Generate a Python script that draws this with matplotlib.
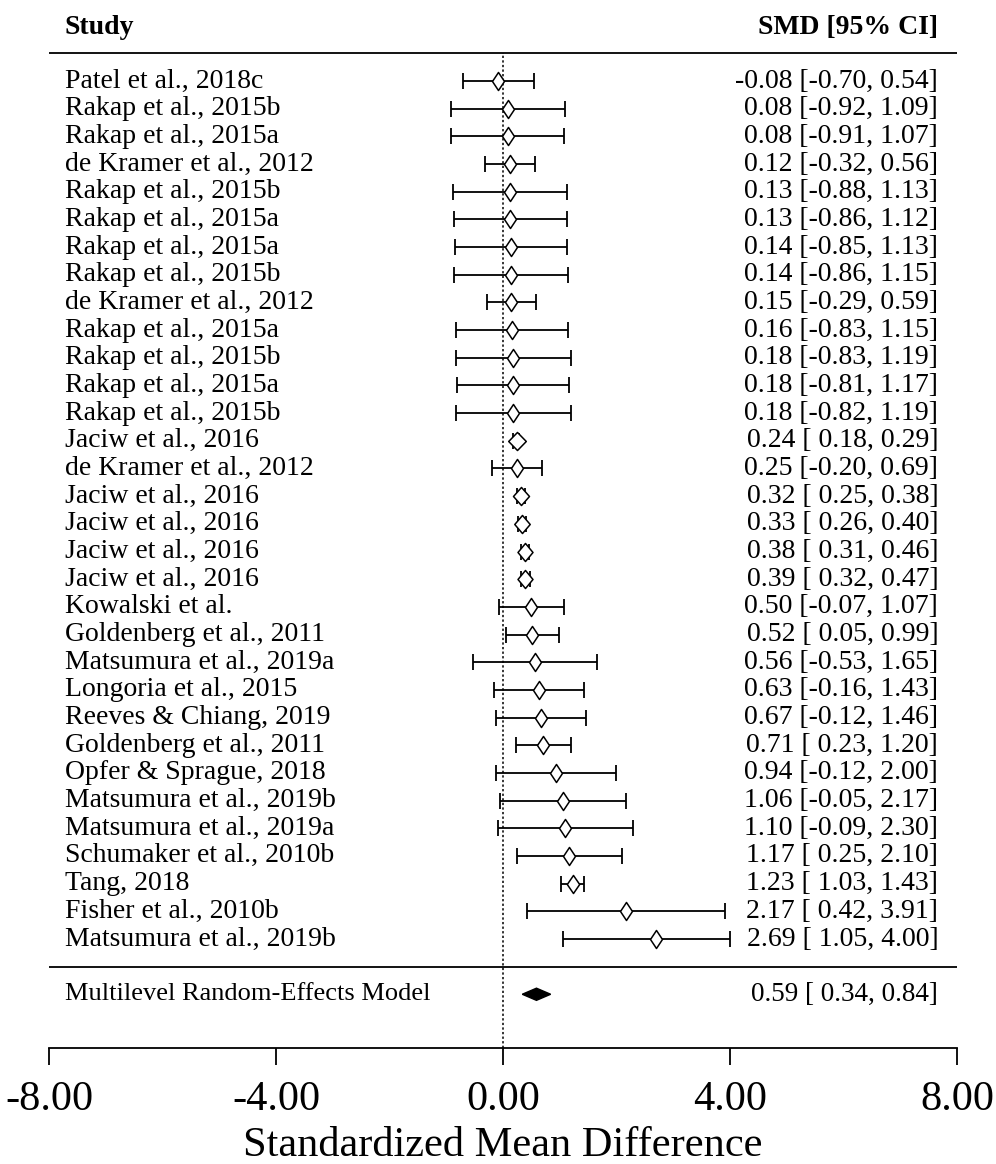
import numpy as np
import matplotlib
matplotlib.use('Agg')
import matplotlib.pyplot as plt
from matplotlib.path import Path
from matplotlib.patches import Polygon

plt.rcParams['font.family'] = ['Liberation Serif', 'DejaVu Serif']

studies = ['Patel et al., 2018c', 'Rakap et al., 2015b', 'Rakap et al., 2015a',
           'de Kramer et al., 2012', 'Rakap et al., 2015b', 'Rakap et al., 2015a',
           'Rakap et al., 2015a', 'Rakap et al., 2015b', 'de Kramer et al., 2012',
           'Rakap et al., 2015a', 'Rakap et al., 2015b', 'Rakap et al., 2015a',
           'Rakap et al., 2015b', 'Jaciw et al., 2016', 'de Kramer et al., 2012',
           'Jaciw et al., 2016', 'Jaciw et al., 2016', 'Jaciw et al., 2016',
           'Jaciw et al., 2016', 'Kowalski et al.', 'Goldenberg et al., 2011',
           'Matsumura et al., 2019a', 'Longoria et al., 2015', 'Reeves & Chiang, 2019',
           'Goldenberg et al., 2011', 'Opfer & Sprague, 2018', 'Matsumura et al., 2019b',
           'Matsumura et al., 2019a', 'Schumaker et al., 2010b', 'Tang, 2018',
           'Fisher et al., 2010b', 'Matsumura et al., 2019b']
smd = [-0.08, 0.08, 0.08, 0.12, 0.13, 0.13, 0.14, 0.14, 0.15, 0.16, 0.18, 0.18,
       0.18, 0.24, 0.25, 0.32, 0.33, 0.38, 0.39, 0.50, 0.52, 0.56, 0.63, 0.67,
       0.71, 0.94, 1.06, 1.10, 1.17, 1.23, 2.17, 2.69]
ci_lo = [-0.70, -0.92, -0.91, -0.32, -0.88, -0.86, -0.85, -0.86, -0.29, -0.83,
         -0.83, -0.81, -0.82, 0.18, -0.20, 0.25, 0.26, 0.31, 0.32, -0.07, 0.05,
         -0.53, -0.16, -0.12, 0.23, -0.12, -0.05, -0.09, 0.25, 1.03, 0.42, 1.05]
ci_hi = [0.54, 1.09, 1.07, 0.56, 1.13, 1.12, 1.13, 1.15, 0.59, 1.15, 1.19, 1.17,
         1.19, 0.29, 0.69, 0.38, 0.40, 0.46, 0.47, 1.07, 0.99, 1.65, 1.43, 1.46,
         1.20, 2.00, 2.17, 2.30, 2.10, 1.43, 3.91, 4.00]

model_label = 'Multilevel Random-Effects Model'
model_est, model_lo, model_hi = 0.59, 0.34, 0.84

xticks = [-8, -4, 0, 4, 8]

k = len(studies)
rows = np.arange(k, 0, -1)
fs = 20

fig = plt.figure(figsize=(9.96, 11.64), dpi=100)
ax = fig.add_axes([0.0492, 0.0997, 0.9116, 0.9003])
ax.set_xlim(-8, 8)
ax.set_ylim(-2.94, k + 2.93)

# confidence intervals with end caps
ax.errorbar(smd, rows, xerr=[np.subtract(smd, ci_lo), np.subtract(ci_hi, smd)],
            fmt='none', ecolor='black', elinewidth=1.3, capsize=5.5, capthick=1.3,
            zorder=2)

# open diamonds, a little wider for the more precise estimates
se = (np.array(ci_hi) - np.array(ci_lo)) / 3.92
w = 1 / se ** 2
wscale = 0.85 + 0.4 * (w - w.min()) / (w.max() - w.min())
for x, y, s in zip(smd, rows, wscale):
    hw = 0.39 * s
    mk = Path([(0, 0.5), (hw, 0), (0, -0.5), (-hw, 0), (0, 0.5)],
              [Path.MOVETO, Path.LINETO, Path.LINETO, Path.LINETO, Path.CLOSEPOLY])
    ax.plot(x, y, marker=mk, markersize=13, markerfacecolor='white',
            markeredgecolor='black', markeredgewidth=1.1, zorder=3)

# text columns
for y, name, m, lo, hi in zip(rows, studies, smd, ci_lo, ci_hi):
    ax.text(-7.72, y, name, ha='left', va='center', fontsize=fs)
    ax.text(7.67, y, f'{m:.2f} [{lo:5.2f}, {hi:.2f}]', ha='right', va='center',
            fontsize=fs)

ax.text(-7.72, k + 1.92, 'Study', ha='left', va='center', fontsize=fs,
        fontweight='bold')
ax.text(7.67, k + 1.92, 'SMD [95% CI]', ha='right', va='center', fontsize=fs,
        fontweight='bold')

# horizontal rules and reference line
ax.plot([-8, 8], [k + 1, k + 1], color='black', lw=1.3)
ax.plot([-8, 8], [0, 0], color='black', lw=1.3)
ax.plot([0, 0], [-2.94, k + 1], color='black', lw=1.1, ls=(0, (1.5, 1.5)))

# summary estimate
ax.add_patch(Polygon([(model_lo, -1), (model_est, -1 + 0.22),
                      (model_hi, -1), (model_est, -1 - 0.22)],
                     closed=True, facecolor='black', edgecolor='black', zorder=3))
ax.text(-7.72, -1, model_label, ha='left', va='center', fontsize=19)
ax.text(7.67, -1, f'{model_est:.2f} [{model_lo:5.2f}, {model_hi:.2f}]',
        ha='right', va='center', fontsize=19.5)

for side in ['top', 'right', 'left']:
    ax.spines[side].set_visible(False)
ax.spines['bottom'].set_linewidth(1.3)
ax.set_yticks([])
ax.set_xticks(xticks)
ax.set_xticklabels([f'{t:.2f}' for t in xticks])
ax.tick_params(axis='x', direction='out', length=12.5, width=1.3, pad=11,
               labelsize=30.5)
ax.set_xlabel('Standardized Mean Difference', fontsize=30.5, labelpad=5)

fig.savefig('out.png', dpi=100)
